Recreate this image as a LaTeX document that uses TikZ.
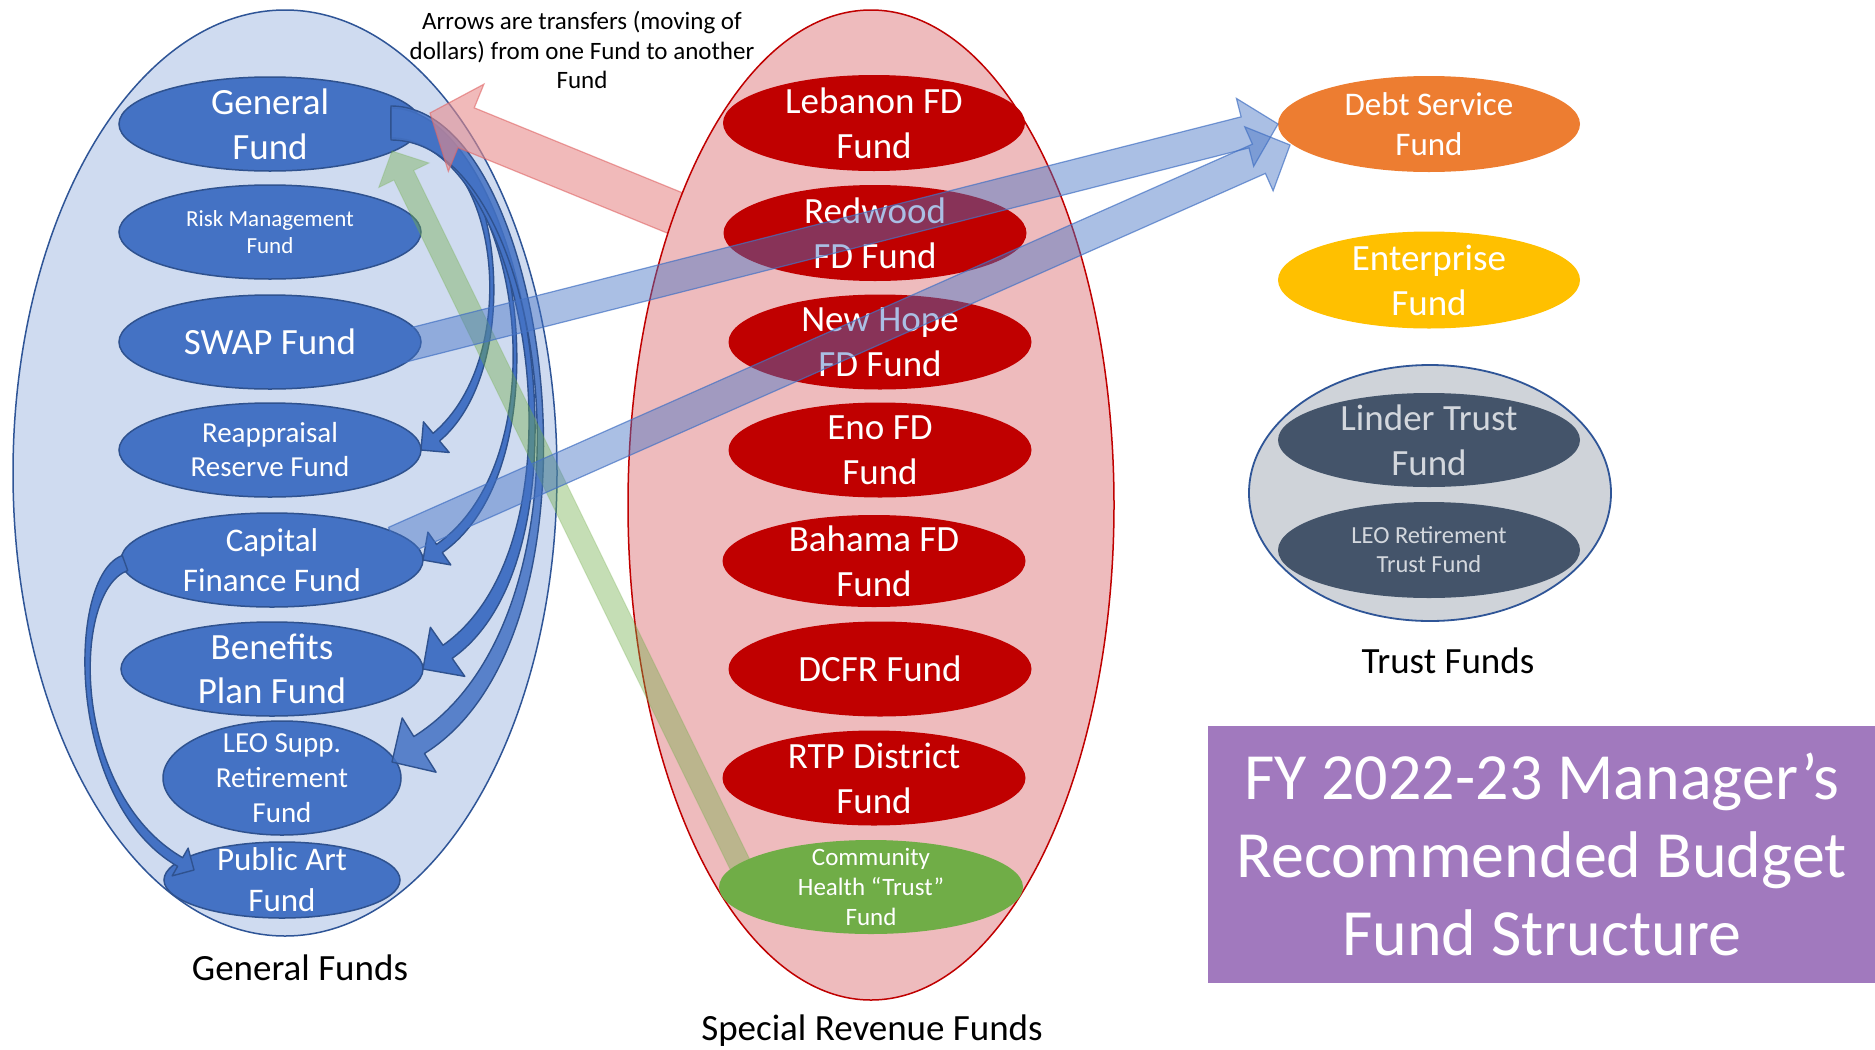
\documentclass[tikz,border=0pt]{standalone}
\usepackage{fontspec}
\setmainfont{Carlito}
\usetikzlibrary{shapes.geometric,calc}

\definecolor{gfblue}{HTML}{4472C4}
\definecolor{gfedge}{HTML}{2F528F}
\definecolor{gfpale}{HTML}{CFDBF0}
\definecolor{gfring}{HTML}{2F5597}
\definecolor{srred}{HTML}{C00000}
\definecolor{srpale}{HTML}{EEBBBD}
\definecolor{chgreen}{HTML}{70AD47}
\definecolor{dsorange}{HTML}{ED7D31}
\definecolor{entgold}{HTML}{FFC000}
\definecolor{trgrey}{HTML}{CFD3D9}
\definecolor{trslate}{HTML}{44546A}
\definecolor{trtext}{HTML}{D3D7DD}
\definecolor{titlepurple}{HTML}{A179BE}
\definecolor{xferred}{HTML}{E88C8C}
\definecolor{xferedge}{HTML}{E06666}

\newcommand{\fsz}[2]{\fontsize{#1}{#2}\selectfont}

% half width of a curved arrow at its tail (set before each \bentxfer)
\newcommand{\tailw}{8}

% Curved block arrow: #1 style, #2 start, #3 start direction, #4 start handle,
% #5 tip, #6 direction at the tip, #7 end handle, #8 half shaft width at the head, #9 half head width
\newcommand{\bentxfer}[9]{%
  \path (#5) ++({#6+180}:#9) coordinate (bend-base);
  \filldraw[#1]
    ($(#2)+({#3+90}:\tailw)$)
      .. controls ($(#2)+(#3:#4)+({#3+90}:\tailw)$) and ($(bend-base)+({#6+180}:#7)+({#6+90}:#8)$) ..
    ($(bend-base)+({#6+90}:#8)$)
    -- ($(bend-base)+({#6+90}:#9)$)
    -- (#5)
    -- ($(bend-base)+({#6-90}:#9)$)
    -- ($(bend-base)+({#6-90}:#8)$)
      .. controls ($(bend-base)+({#6+180}:#7)+({#6-90}:#8)$) and ($(#2)+(#3:#4)+({#3-90}:\tailw)$) ..
    ($(#2)+({#3-90}:\tailw)$)
    -- cycle;}

% Straight block arrow: #1 style, #2 tail, #3 tip, #4 half shaft, #5 half head, #6 head length
\newcommand{\straightxfer}[6]{%
  \path ($(#3)!#6pt!(#2)$) coordinate (xfer-base);
  \filldraw[#1]
    ($(#2)!#4pt!90:(#3)$) -- ($(xfer-base)!#4pt!90:(#3)$) -- ($(xfer-base)!#5pt!90:(#3)$)
    -- (#3)
    -- ($(xfer-base)!#5pt!-90:(#3)$) -- ($(xfer-base)!#4pt!-90:(#3)$) -- ($(#2)!#4pt!-90:(#3)$)
    -- cycle;}

\begin{document}
\begin{tikzpicture}[x=1pt, y=-1pt,
  fundshape/.style={ellipse, inner sep=0pt, outer sep=0pt},
  genfund/.style={fundshape, fill=gfblue, draw=gfedge, line width=1.5pt},
  revfund/.style={fundshape, fill=srred},
  fundtext/.style={text=white, align=center, inner sep=0pt},
  grouplabel/.style={text=black, align=center, inner sep=0pt, font=\fsz{37}{44}},
  innerxfer/.style={fill=gfblue, draw=gfedge, line width=1.4pt, line join=round},
  bluexfer/.style={fill=gfblue, fill opacity=0.45, draw=gfblue, draw opacity=0.7, line width=1.2pt},
  redxfer/.style={fill=xferred, fill opacity=0.6, draw=xferedge, draw opacity=0.6, line width=1.2pt},
  greenxfer/.style={fill=chgreen, fill opacity=0.4, draw=chgreen, draw opacity=0.25, line width=1pt},
]
\useasboundingbox (0,0) rectangle (1875,1050);
\fill[white] (0,0) rectangle (1875,1050);

% ---------- General Funds ----------
\node[fundshape, fill=gfpale, draw=gfring, line width=1.5pt, minimum width=544pt, minimum height=926pt] (gen-group) at (285,473) {};

\node[genfund, minimum width=302pt, minimum height=94pt] (gf) at (270,124) {};
\node[fundtext, font=\fsz{37}{45}] (gf-t) at (gf) {General\\Fund};
\node[genfund, minimum width=302pt, minimum height=94pt] (rmf) at (270,232) {};
\node[fundtext, font=\fsz{23}{27.5}] (rmf-t) at (rmf) {Risk Management\\Fund};
\node[genfund, minimum width=302pt, minimum height=94pt] (swap) at (270,342) {};
\node[fundtext, font=\fsz{37}{45}] (swap-t) at (swap) {SWAP Fund};
\node[genfund, minimum width=302pt, minimum height=94pt] (reap) at (270,450) {};
\node[fundtext, font=\fsz{29}{34}] (reap-t) at (reap) {Reappraisal\\Reserve Fund};
\node[genfund, minimum width=302pt, minimum height=94pt] (cff) at (272,560) {};
\node[fundtext, font=\fsz{33}{40}] (cff-t) at (cff) {Capital\\Finance Fund};
\node[genfund, minimum width=302pt, minimum height=94pt] (bpf) at (272,669) {};
\node[fundtext, font=\fsz{37}{44}] (bpf-t) at (bpf) {Benefits\\Plan Fund};
\node[genfund, minimum width=238pt, minimum height=114pt] (leo) at (282,778) {};
\node[fundtext, font=\fsz{29}{35}] (leo-t) at (leo) {LEO Supp.\\Retirement\\Fund};
\node[genfund, minimum width=236pt, minimum height=76pt] (paf) at (282,880) {};
\node[fundtext, font=\fsz{33}{41}] (paf-t) at (paf) {Public Art\\Fund};

% transfers out of the General Fund
\coordinate (gf-out) at ($(gf.east)+(-30,-1)$);
\renewcommand{\tailw}{12}
\bentxfer{innerxfer}{gf-out}{0}{110}{reap.east}{140}{120}{5}{20}
\bentxfer{innerxfer}{gf-out}{0}{125}{cff.east}{145}{160}{5}{20}
\renewcommand{\tailw}{15}
\bentxfer{innerxfer}{gf-out}{0}{135}{bpf.east}{145}{185}{8}{30}
\coordinate (leo-in) at ($(leo.east)+(-9,-16)$);
\renewcommand{\tailw}{17}
\bentxfer{innerxfer, fill opacity=0.85}{gf-out}{0}{160}{leo-in}{148}{230}{10}{32}
% Capital Finance to Public Art
\coordinate (cff-out) at ($(cff.west)+(4,3)$);
\coordinate (paf-in) at ($(paf.west)+(30,-10)$);
\renewcommand{\tailw}{8}
\bentxfer{innerxfer}{cff-out}{160}{60}{paf-in}{30}{130}{5}{16}

% Redwood FD to General Fund (tail runs under the revenue group)
\coordinate (rw-c) at (875,233);
\coordinate (rw-out) at ($(rw-c)+(-151,0)$);
\coordinate (gf-in-red) at ($(gf.east)+(9,-11)$);
\straightxfer{redxfer}{rw-out}{gf-in-red}{21.5}{47}{39}

% ---------- Special Revenue Funds ----------
\node[fundshape, fill=srpale, draw=srred, line width=1.5pt, minimum width=486pt, minimum height=990pt] (rev-group) at (871,505) {};

\node[revfund, minimum width=302pt, minimum height=96pt] (leb) at (874,123) {};
\node[fundtext, font=\fsz{37}{45}] (leb-t) at (leb) {Lebanon FD\\Fund};
\node[revfund, minimum width=303pt, minimum height=96pt] (rw) at (rw-c) {};
\node[fundtext, font=\fsz{37}{45}] (rw-t) at (rw) {Redwood\\FD Fund};
\node[revfund, minimum width=303pt, minimum height=95pt] (nh) at (880,342) {};
\node[fundtext, font=\fsz{37}{45}] (nh-t) at (nh) {New Hope\\FD Fund};
\node[revfund, minimum width=303pt, minimum height=95pt] (eno) at (880,450) {};
\node[fundtext, font=\fsz{37}{45}] (eno-t) at (eno) {Eno FD\\Fund};
\node[revfund, minimum width=303pt, minimum height=92pt] (bah) at (874,561) {};
\node[fundtext, font=\fsz{37}{45}] (bah-t) at (bah) {Bahama FD\\Fund};
\node[revfund, minimum width=303pt, minimum height=95pt] (dcfr) at (880,669) {};
\node[fundtext, font=\fsz{37}{45}] (dcfr-t) at (dcfr) {DCFR Fund};
\node[revfund, minimum width=303pt, minimum height=95pt] (rtp) at (874,778) {};
\node[fundtext, font=\fsz{37}{45}] (rtp-t) at (rtp) {RTP District\\Fund};

% Community Health to General Fund (tail runs under the fund)
\coordinate (ch-c) at (871,887);
\coordinate (ch-out) at ($(ch-c)+(-120,0)$);
\coordinate (gf-in-green) at ($(gf.east)+(-29,27)$);
\straightxfer{greenxfer}{ch-out}{gf-in-green}{11}{28}{27}
\node[fundshape, fill=chgreen, minimum width=304pt, minimum height=94pt] (chf) at (ch-c) {};
\node[fundtext, font=\fsz{25}{30}] (chf-t) at (chf) {Community\\Health “Trust”\\Fund};

% ---------- Other funds ----------
\node[fundshape, fill=dsorange, minimum width=302pt, minimum height=96pt] (debt) at (1429,124) {};
\node[fundtext, font=\fsz{33}{40}] (debt-t) at (debt) {Debt Service\\Fund};
\node[fundshape, fill=entgold, minimum width=302pt, minimum height=97pt] (ent) at (1429,280) {};
\node[fundtext, font=\fsz{37}{45}] (ent-t) at (ent) {Enterprise\\Fund};

\node[fundshape, fill=trgrey, draw=gfring, line width=1.8pt, minimum width=362pt, minimum height=256pt] (trust-group) at (1430,493) {};
\node[fundshape, fill=trslate, minimum width=302pt, minimum height=94pt] (lin) at (1429,440) {};
\node[fundtext, text=trtext, font=\fsz{37}{45}] (lin-t) at (lin) {Linder Trust\\Fund};
\node[fundshape, fill=trslate, minimum width=302pt, minimum height=96pt] (leot) at (1429,550) {};
\node[fundtext, text=trtext, font=\fsz{24.5}{29}] (leot-t) at (leot) {LEO Retirement\\Trust Fund};

% transfers into Debt Service
\coordinate (swap-out) at ($(swap.east)+(-25,6)$);
\straightxfer{bluexfer}{swap-out}{debt.west}{16}{35}{34}
\coordinate (cff-out2) at ($(cff.east)+(-28,-18)$);
\coordinate (debt-in) at ($(debt.west)+(12,21)$);
\straightxfer{bluexfer}{cff-out2}{debt-in}{16}{35}{34}

% ---------- Labels ----------
\node[grouplabel] (gen-label) at (300,968) {General Funds};
\node[grouplabel] (rev-label) at (872,1031) {Special Revenue Funds};
\node[grouplabel] (trust-label) at (1448,661) {Trust Funds};
\node[text=black, align=center, inner sep=0pt, font=\fsz{25}{29.5}] (xfer-note) at (582,50)
  {Arrows are transfers (moving of\\dollars) from one Fund to another\\Fund};

% ---------- Title ----------
\node[fill=titlepurple, inner sep=0pt, minimum width=667pt, minimum height=257pt, anchor=north west] (title-box) at (1208,726) {};
\node[fundtext, font=\fsz{66}{78}] (title-t) at (title-box) {FY 2022-23 Manager’s\\Recommended Budget\\Fund Structure};
\end{tikzpicture}
\end{document}
